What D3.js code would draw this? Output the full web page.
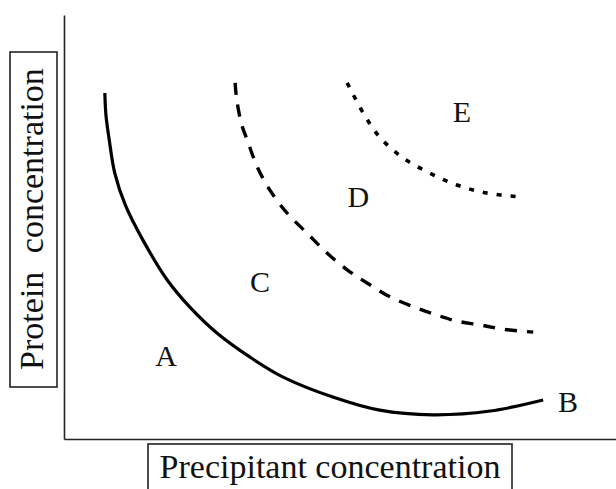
<!DOCTYPE html>
<html>
<head>
<meta charset="utf-8">
<script src="https://d3js.org/d3.v7.min.js"></script>
<style>
  body { margin: 0; background: #fff; }
  text { font-family: "Liberation Serif", "Times New Roman", serif; fill: #111; }
</style>
</head>
<body>
<div id="chart"></div>
<script>
// phase diagram curves (arbitrary units 0-10)
var solidX  = [0.74, 0.76, 0.82, 0.92, 1.11, 1.43, 1.87, 2.28, 2.77, 3.37, 3.97, 4.87, 5.72, 6.68, 7.72, 8.68];
var solidY  = [8.16, 7.64, 7.05, 6.27, 5.52, 4.69, 3.75, 3.11, 2.50, 1.93, 1.46, 0.99, 0.68, 0.57, 0.66, 0.92];
var dashedX = [3.10, 3.13, 3.22, 3.32, 3.50, 3.73, 4.04, 4.40, 4.76, 5.13, 5.49, 5.91, 6.39, 6.76, 7.12, 7.54, 7.95, 8.50];
var dashedY = [8.40, 8.00, 7.41, 7.05, 6.42, 5.87, 5.33, 4.86, 4.39, 3.99, 3.68, 3.35, 3.09, 2.92, 2.78, 2.69, 2.59, 2.52];
var dottedX = [5.13, 5.42, 5.72, 6.14, 6.63, 7.12, 7.66, 8.26];
var dottedY = [8.40, 7.69, 7.12, 6.63, 6.27, 5.99, 5.80, 5.71];

// region labels
var regionNames = ["A", "B", "C", "D", "E"];
var regionX = [1.85, 9.13, 3.55, 5.33, 7.21];
var regionY = [1.72, 0.64, 3.47, 5.47, 7.48];

var xTitle = "Precipitant concentration";
var yTitleWords = ["Protein", "concentration"];

var width = 616, height = 489;
var margin = {top: 15, right: 0, bottom: 50, left: 64};

var svg = d3.select("#chart")
  .append("svg")
    .attr("width", width)
    .attr("height", height);

var x = d3.scaleLinear()
    .domain([0, 10])
    .range([margin.left, width - margin.right]);
var y = d3.scaleLinear()
    .domain([0, 10])
    .range([height - margin.bottom, margin.top]);

// axes: plain lines, no ticks
svg.append("g")
    .attr("transform", "translate(0," + (height - margin.bottom) + ")")
    .call(d3.axisBottom(x).tickValues([]).tickSizeOuter(0))
    .select(".domain").attr("stroke", "#222").attr("stroke-width", 1.6);
svg.append("g")
    .attr("transform", "translate(" + margin.left + ",0)")
    .call(d3.axisLeft(y).tickValues([]).tickSizeOuter(0))
    .select(".domain").attr("stroke", "#222").attr("stroke-width", 1.6);

var line = d3.line()
    .x(function(d) { return x(d[0]); })
    .y(function(d) { return y(d[1]); })
    .curve(d3.curveCatmullRom.alpha(0.5));

function pairs(xs, ys) { return xs.map(function(v, i) { return [v, ys[i]]; }); }

svg.append("path")
    .datum(pairs(solidX, solidY))
    .attr("d", line)
    .attr("fill", "none")
    .attr("stroke", "#000")
    .attr("stroke-width", 3.2);

svg.append("path")
    .datum(pairs(dashedX, dashedY))
    .attr("d", line)
    .attr("fill", "none")
    .attr("stroke", "#000")
    .attr("stroke-width", 3.4)
    .attr("stroke-dasharray", "12,10");

svg.append("path")
    .datum(pairs(dottedX, dottedY))
    .attr("d", line)
    .attr("fill", "none")
    .attr("stroke", "#000")
    .attr("stroke-width", 3.6)
    .attr("stroke-dasharray", "5,9");

svg.selectAll(".region")
    .data(regionNames)
    .enter()
    .append("text")
      .attr("class", "region")
      .attr("x", function(d, i) { return x(regionX[i]); })
      .attr("y", function(d, i) { return y(regionY[i]); })
      .attr("text-anchor", "middle")
      .style("font-size", "30px")
      .text(function(d) { return d; });

// x title in a box
svg.append("rect")
    .attr("x", 148).attr("y", 444)
    .attr("width", 364).attr("height", 50)
    .attr("fill", "none").attr("stroke", "#222").attr("stroke-width", 1.6);
svg.append("text")
    .attr("x", 330).attr("y", 478)
    .attr("text-anchor", "middle")
    .style("font-size", "34px")
    .text(xTitle);

// y title in a box
svg.append("rect")
    .attr("x", 10).attr("y", 52)
    .attr("width", 47).attr("height", 335)
    .attr("fill", "none").attr("stroke", "#222").attr("stroke-width", 1.6);
var yt = svg.append("text")
    .attr("transform", "translate(43,219) rotate(-90)")
    .attr("text-anchor", "middle")
    .style("font-size", "34px");
yt.append("tspan").text(yTitleWords[0]);
yt.append("tspan").attr("dx", 10).text(" " + yTitleWords[1]);
</script>
</body>
</html>
